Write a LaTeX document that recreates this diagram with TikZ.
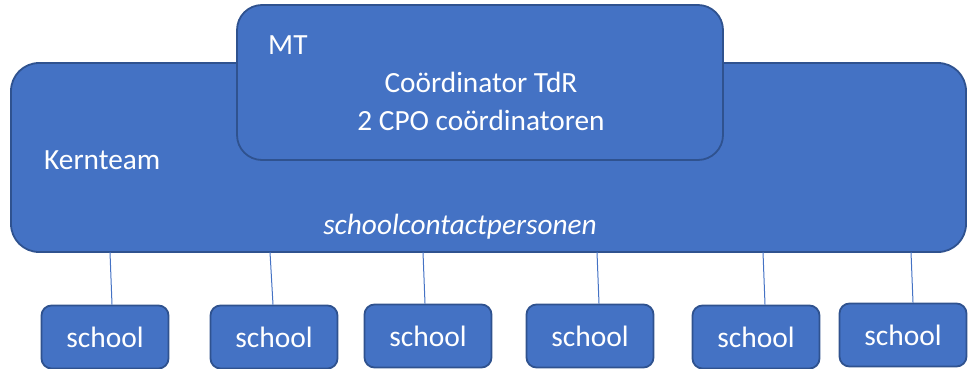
\documentclass[tikz,border=0pt]{standalone}
\usepackage{fontspec}
\setmainfont{Carlito}
\definecolor{boxfill}{HTML}{4472C4}
\definecolor{boxline}{HTML}{2F528F}
\tikzset{
  bluebox/.style={fill=boxfill, draw=boxline, line width=1.8pt},
  schoolbox/.style={bluebox, rounded corners=10pt, minimum width=127pt, minimum height=63pt, inner sep=0pt, text=white, font=\fontsize{29.5}{34}\selectfont},
  wtext/.style={text=white, font=\fontsize{29.3}{34}\selectfont, inner sep=0pt},
  link/.style={draw=boxfill, line width=1pt}
}
\begin{document}
\begin{tikzpicture}[x=1pt,y=-1pt]
\useasboundingbox (0,0) rectangle (968,369);
% Kernteam
\draw[bluebox, rounded corners=28pt] (11,63) rectangle (966,252);
\node[inner sep=0pt, minimum width=955pt, minimum height=189pt] (kern) at (488.5,157.5) {};
% MT
\draw[bluebox, rounded corners=25pt] (237,5) rectangle (723,160);
\node[inner sep=0pt, minimum width=486pt, minimum height=155pt] (mt) at (480,82.5) {};
\node[wtext, anchor=west] (mtlabel) at (268,45) {MT};
\node[wtext] (coord) at (481,82) {Coördinator TdR};
\node[wtext] (cpo) at (481,120) {2 CPO coördinatoren};
\node[wtext, anchor=west] (kernlabel) at (44,160) {Kernteam};
\node[wtext, font=\fontsize{29.3}{34}\selectfont\itshape] (scp) at (460,227) {schoolcontactpersonen};
% schools
\node[schoolbox] (s1) at (105,337) {school};
\node[schoolbox] (s2) at (274,337) {school};
\node[schoolbox] (s3) at (428,336) {school};
\node[schoolbox] (s4) at (590,336) {school};
\node[schoolbox] (s5) at (756,337) {school};
\node[schoolbox] (s6) at (903,335) {school};
% connectors
\draw[link] (kern.south -| 110,0) -- ([xshift=7pt]s1.north);
\draw[link] (kern.south -| 270,0) -- ([xshift=-1pt]s2.north);
\draw[link] (kern.south -| 423,0) -- ([xshift=-3pt]s3.north);
\draw[link] (kern.south -| 597,0) -- ([xshift=9pt]s4.north);
\draw[link] (kern.south -| 763,0) -- ([xshift=9pt]s5.north);
\draw[link] (kern.south -| 911,0) -- ([xshift=10pt]s6.north);
\end{tikzpicture}
\end{document}
